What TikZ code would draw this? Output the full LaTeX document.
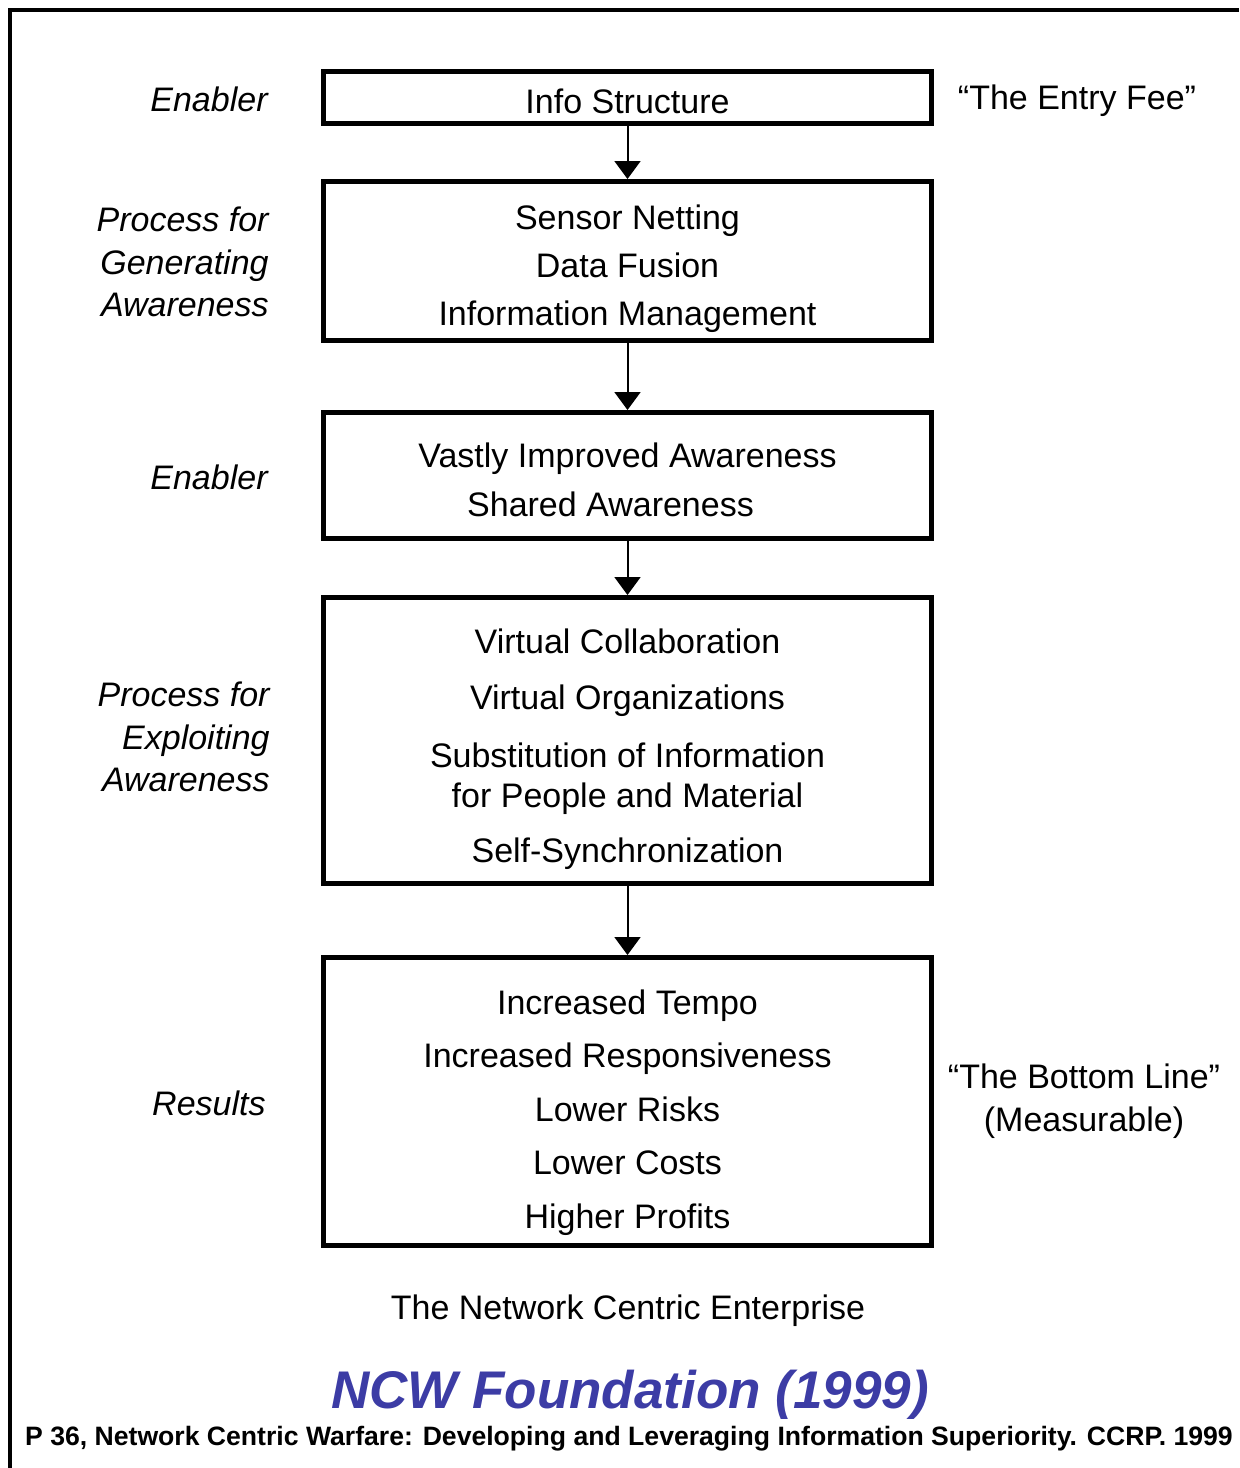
\documentclass[tikz,border=0pt]{standalone}
\usepackage{fontspec}
\setmainfont{Liberation Sans}
\usetikzlibrary{arrows.meta}
\definecolor{ncwblue}{RGB}{60,60,165}
\tikzset{
    box/.style={draw, line width=2.5pt, minimum width=304pt, inner sep=0pt},
    boxtext/.style={align=center, inner sep=0pt, font=\fontsize{17}{20}\selectfont},
    side/.style={anchor=east, align=right, inner sep=0pt, font=\fontsize{17}{21.25}\selectfont\itshape},
    note/.style={align=center, font=\fontsize{17}{21.5}\selectfont},
    arr/.style={line width=1pt, -{Triangle[width=13pt,length=9pt]}}
}
\begin{document}
\begin{tikzpicture}[x=0.5pt,y=-0.5pt]
            \useasboundingbox (0,0) rectangle (1239,1468);
            \draw[line width=2pt] (9.5,1468) -- (9.5,10) -- (1239,10);

            % the five stages
            \node[box, minimum height=26pt] (info) at (627.5,97.5) {};
            \node[box, minimum height=79.5pt] (generate) at (627.5,261) {};
            \node[box, minimum height=63pt] (aware) at (627.5,475.5) {};
            \node[box, minimum height=143pt] (exploit) at (627.5,740.5) {};
            \node[box, minimum height=144pt] (results) at (627.5,1101.5) {};

            \node[boxtext] (infotxt) at ([yshift=-2pt]info.center) {Info Structure};
            \node[boxtext] (generatetxt) at ([yshift=-4pt]generate.center)
                {Sensor Netting\\[4pt] Data Fusion\\[4pt] Information Management};
            \node[boxtext] (awaretxt) at ([yshift=-2pt]aware.center)
                {Vastly Improved Awareness\\[4.5pt] \hspace*{-17pt}Shared Awareness};
            \node[boxtext] (exploittxt) at ([yshift=-4.5pt]exploit.center)
                {Virtual Collaboration\\[8pt] Virtual Organizations\\[9pt]
                 Substitution of Information\\ for People and Material\\[7.5pt]
                 Self-Synchronization};
            \node[boxtext] (resultstxt) at ([yshift=-5.5pt]results.center)
                {Increased Tempo\\[6.75pt] Increased Responsiveness\\[6.75pt] Lower Risks\\[6.75pt]
                 Lower Costs\\[6.75pt] Higher Profits};

            \draw[arr] (info) -- (generate);
            \draw[arr] (generate) -- (aware);
            \draw[arr] (aware) -- (exploit);
            \draw[arr] (exploit) -- (results);

            % left column
            \node[side] (enab1) at (268,99) {Enabler};
            \node[side] (procgen) at (269,262) {Process for\\ Generating\\ Awareness};
            \node[side] (enab2) at (268,477) {Enabler};
            \node[side] (procexp) at (270,737) {Process for\\ Exploiting\\ Awareness};
            \node[side] (res) at (266,1103) {Results};

            % right column
            \node[note] (entry) at (1077,101) {``The Entry Fee''};
            \node[note] (bottom) at (1084,1101) {``The Bottom Line''\\ (Measurable)};

            \node[note] (enterprise) at (628,1311) {The Network Centric Enterprise};
            \node[font=\fontsize{26.5}{30}\selectfont\bfseries\itshape, text=ncwblue] (title)
                at (630,1395) {NCW Foundation (1999)};
            \node[font=\fontsize{13.3}{15}\selectfont\bfseries] (source) at (629,1439)
                {P 36, Network Centric Warfare: Developing and Leveraging Information Superiority. CCRP. 1999};
\end{tikzpicture}
\end{document}
